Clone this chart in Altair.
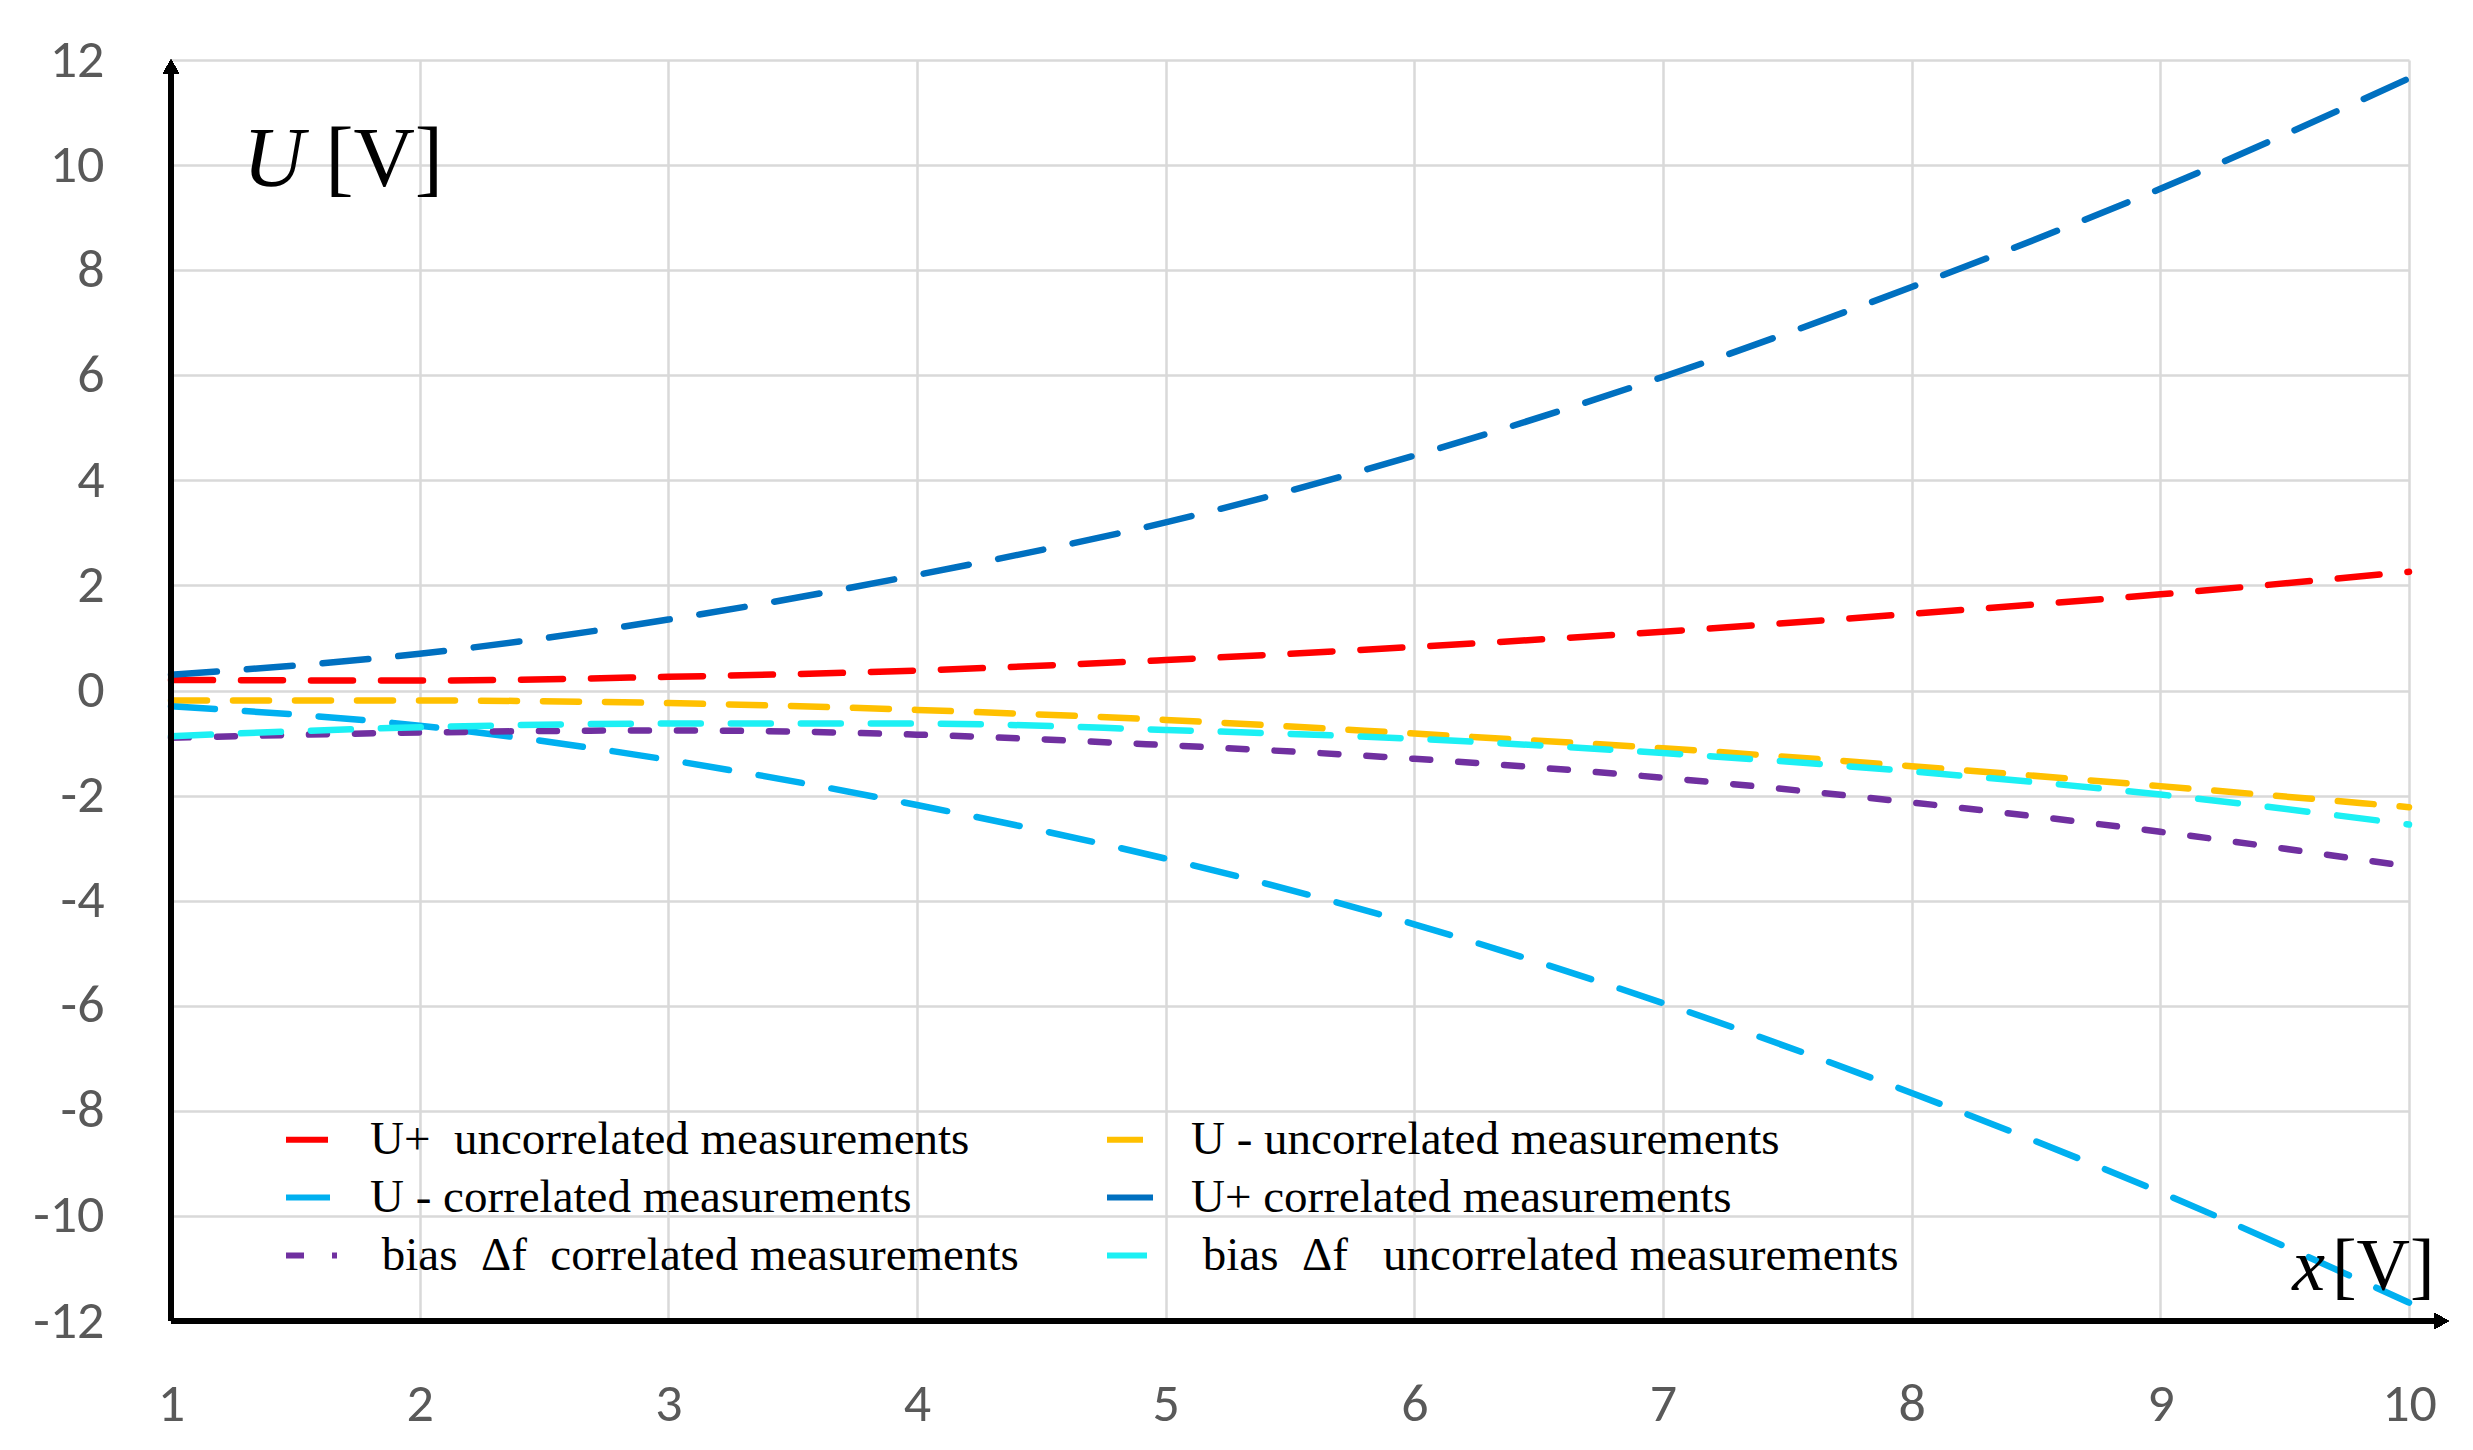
import altair as alt
import pandas as pd

# ---------------- data ----------------
x_vals = [1, 2, 3, 4, 5, 6, 7, 8, 9, 10]
u_plus_uncorr = [0.20, 0.19, 0.26, 0.38, 0.58, 0.83, 1.12, 1.46, 1.83, 2.26]
u_minus_uncorr = [-0.19, -0.19, -0.24, -0.37, -0.56, -0.82, -1.10, -1.44, -1.82, -2.22]
u_minus_corr = [-0.30, -0.67, -1.32, -2.18, -3.20, -4.45, -5.95, -7.66, -9.55, -11.65]
u_plus_corr = [0.30, 0.70, 1.35, 2.20, 3.20, 4.47, 5.97, 7.68, 9.55, 11.65]
bias_corr = [-0.90, -0.80, -0.76, -0.84, -1.04, -1.30, -1.66, -2.13, -2.69, -3.35]
bias_uncorr = [-0.87, -0.70, -0.63, -0.63, -0.75, -0.92, -1.19, -1.54, -1.98, -2.55]

NB = "\u00a0"
ZW = "\u200b"
series_names = [
    "U+" + NB + " uncorrelated measurements",
    "U - uncorrelated measurements",
    "U - correlated measurements",
    "U+ correlated measurements",
    ZW + NB + "bias " + NB + "\u0394f " + NB + "correlated measurements",
    ZW + NB + "bias " + NB + "\u0394f " + NB + NB + "uncorrelated measurements",
]
series_values = [u_plus_uncorr, u_minus_uncorr, u_minus_corr, u_plus_corr, bias_corr, bias_uncorr]
series_colors = ["#FF0000", "#FFC000", "#00B0F0", "#0070C0", "#7030A0", "#1CF0F4"]
series_dashes = [[42, 28], [36, 26], [44, 30], [46, 30], [18, 28], [40, 30]]

y_ticks = [-12, -10, -8, -6, -4, -2, 0, 2, 4, 6, 8, 10, 12]

ann_italic_text = ["U", "x"]
ann_italic_x = [1.29, 9.53]
ann_italic_y = [9.6, -11.41]
ann_italic_size = [85, 74]

ann_plain_text = ["[V]", "[V]"]
ann_plain_x = [1.62, 9.69]
ann_plain_y = [9.6, -11.41]
ann_plain_size = [85, 74]

# ---------------- build tables ----------------
rows = []
for name, vals in zip(series_names, series_values):
    for xv, yv in zip(x_vals, vals):
        rows.append({"series": name, "x": xv, "y": yv})
df = pd.DataFrame(rows)

SANS = "Liberation Sans Narrow, Carlito, Open Sans, sans-serif"
SERIF = "Liberation Serif, Times New Roman, serif"

x_scale = alt.Scale(domain=[1, 10], nice=False, zero=False)
y_scale = alt.Scale(domain=[-12, 12], nice=False, zero=False)

legend_kw = dict(
    title=None,
    orient="none",
    legendX=112,
    legendY=1051,
    columns=2,
    direction="horizontal",
    symbolType="stroke",
    symbolSize=2600,
    symbolStrokeWidth=6,
    labelFont=SERIF,
    labelFontSize=47,
    labelColor="black",
    labelOffset=30,
    rowPadding=6,
    columnPadding=76,
    labelLimit=0,
    padding=0,
)

lines = alt.Chart(df).mark_line(strokeWidth=6.5, strokeCap="round", interpolate="monotone").encode(
    x=alt.X("x:Q", scale=x_scale,
            axis=alt.Axis(values=x_vals, format="d", grid=True, gridColor="#D9D9D9", gridWidth=2.5,
                          domain=False, ticks=False, labelFont=SANS, labelFontSize=54,
                          labelColor="#595959", labelPadding=56, title=None, labelFlush=False)),
    y=alt.Y("y:Q", scale=y_scale,
            axis=alt.Axis(values=y_ticks, grid=True, gridColor="#D9D9D9", gridWidth=2.5,
                          domain=False, ticks=False, labelFont=SANS, labelFontSize=54,
                          labelColor="#595959", labelPadding=67, title=None, labelFlush=False,
                          labelExpr="datum.value < 0 ? '-' + abs(datum.value) : '' + datum.value")),
    color=alt.Color("series:N", scale=alt.Scale(domain=series_names, range=series_colors),
                    sort=series_names, legend=alt.Legend(**legend_kw)),
    strokeDash=alt.StrokeDash("series:N", scale=alt.Scale(domain=series_names, range=series_dashes),
                              sort=series_names, legend=alt.Legend(**legend_kw)),
    detail="series:N",
)

y_axis_line = alt.Chart(df).mark_rule(color="black", strokeWidth=4.5).encode(
    x=alt.datum(1), y=alt.datum(-12), y2=alt.datum(11.8)
)
x_axis_line = alt.Chart(df).mark_rule(color="black", strokeWidth=4.5).encode(
    x=alt.datum(1), x2=alt.datum(10.1), y=alt.datum(-12)
)
y_arrow = alt.Chart(df).mark_point(shape="triangle-up", filled=True, color="black", opacity=1, size=260).encode(
    x=alt.datum(1), y=alt.datum(11.87)
)
x_arrow = alt.Chart(df).mark_point(shape="triangle-right", filled=True, color="black", opacity=1, size=260).encode(
    x=alt.datum(10.13), y=alt.datum(-12)
)

ann_i = alt.Chart(pd.DataFrame({"t": ann_italic_text, "x": ann_italic_x, "y": ann_italic_y, "s": ann_italic_size})).mark_text(
    font=SERIF, fontStyle="italic", align="left", baseline="alphabetic", color="black"
).encode(x=alt.X("x:Q", scale=x_scale), y=alt.Y("y:Q", scale=y_scale), text="t:N", size=alt.Size("s:Q", scale=None))

ann_p = alt.Chart(pd.DataFrame({"t": ann_plain_text, "x": ann_plain_x, "y": ann_plain_y, "s": ann_plain_size})).mark_text(
    font=SERIF, align="left", baseline="alphabetic", color="black"
).encode(x=alt.X("x:Q", scale=x_scale), y=alt.Y("y:Q", scale=y_scale), text="t:N", size=alt.Size("s:Q", scale=None))

chart = alt.layer(lines, y_axis_line, x_axis_line, y_arrow, x_arrow, ann_i, ann_p).properties(
    width=2238,
    height=1261,
    autosize=alt.AutoSizeParams(type="none"),
    padding={"left": 163, "top": 52, "right": 56, "bottom": 121},
    background="white",
).configure_view(stroke=None)

chart.save("out.html", embed_options={"renderer": "svg", "actions": False})
